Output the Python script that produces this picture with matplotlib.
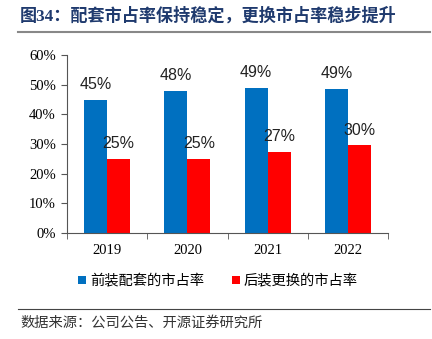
import numpy as np
import matplotlib.pyplot as plt

years = ['2019', '2020', '2021', '2022']
oem_share = [45.0, 48.0, 49.0, 48.6]
after_share = [25.0, 25.0, 27.4, 29.5]
oem_labels = ['45%', '48%', '49%', '49%']
after_labels = ['25%', '25%', '27%', '30%']

cjk = ['Noto Sans CJK SC', 'DejaVu Sans']

fig = plt.figure(figsize=(4.32, 3.39), dpi=100)
W, H = 432, 339
ax = fig.add_axes([67 / W, 1 - 233 / H, 321 / W, 178 / H])

x = np.arange(len(years))
w = 0.287
ax.bar(x - w / 2, oem_share, w, color='#0070C0', label='前装配套的市占率')
ax.bar(x + w / 2, after_share, w, color='#FF0000', label='后装更换的市占率')

for i in range(len(years)):
    ax.text(x[i] - w / 2, oem_share[i] + 2.5, oem_labels[i], ha='center', va='bottom',
            family='Liberation Sans', fontsize=11.5, color='#222222')
    ax.text(x[i] + w / 2, after_share[i] + 2.5, after_labels[i], ha='center', va='bottom',
            family='Liberation Sans', fontsize=11.5, color='#222222')

ax.set_xlim(-0.5, 3.5)
ax.set_ylim(0, 60)
ax.set_yticks(range(0, 61, 10))
ax.set_yticklabels([f'{v}%' for v in range(0, 61, 10)], family='Liberation Serif', fontsize=10.5)
ax.set_xticks(x)
ax.set_xticklabels(years, family='Liberation Serif', fontsize=10.5)
ax.set_xticks(np.arange(-0.5, 4, 1), minor=True)
ax.tick_params(axis='x', which='major', length=0, pad=8)
ax.tick_params(axis='x', which='minor', length=4, color='#555555', direction='out')
ax.tick_params(axis='y', length=4, color='#555555', direction='out', pad=4)
for s in ['top', 'right']:
    ax.spines[s].set_visible(False)
for s in ['left', 'bottom']:
    ax.spines[s].set_color('#555555')

leg = fig.legend(loc='center', bbox_to_anchor=(0.505, 1 - 281 / H), ncol=2, frameon=False,
                 handlelength=0.55, handleheight=0.55, handletextpad=0.25, columnspacing=2.0,
                 prop={'family': cjk, 'size': 10.3})

fig.text(20 / W, 1 - 16 / H, '图34：配套市占率保持稳定，更换市占率稳步提升', ha='left', va='center',
         family=['Liberation Serif', 'Noto Sans CJK SC'], fontweight='bold', fontsize=12.3,
         color='#1F3A6E')
fig.add_artist(plt.Line2D([18 / W, 430 / W], [1 - 32 / H, 1 - 32 / H], color='#888888', lw=1.5))
fig.add_artist(plt.Line2D([18 / W, 430 / W], [1 - 309 / H, 1 - 309 / H], color='#444444', lw=0.8))
fig.text(20 / W, 1 - 323 / H, '数据来源：公司公告、开源证券研究所', ha='left', va='center',
         family=cjk, fontsize=10.3, color='#333333')

fig.savefig('out.png', dpi=100)
